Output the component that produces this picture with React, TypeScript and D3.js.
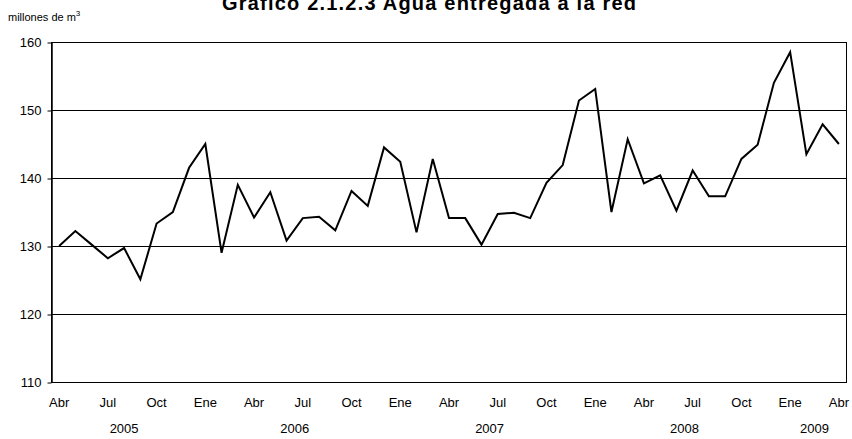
import { useEffect, useRef } from 'react';
import { select, scaleBand, scaleLinear, line, axisLeft, range } from 'd3';

// Agua entregada a la red, millones de m3, Abr 2005 - Abr 2009
const values = [
  130.0, 132.2, 130.2, 128.2, 129.7, 125.1, 133.3, 135.0, 141.5,
  145.0, 129.0, 139.0, 134.2, 137.9, 130.8, 134.1, 134.3, 132.3, 138.1, 135.9, 144.5,
  142.4, 132.0, 142.8, 134.1, 134.1, 130.2, 134.7, 134.9, 134.1, 139.3, 141.9, 151.4,
  153.1, 135.0, 145.7, 139.2, 140.4, 135.2, 141.1, 137.3, 137.3, 142.8, 144.9, 154.0,
  158.5, 143.5, 147.9, 145.0,
];

// one label every 3 months, starting at Abr 2005
const monthTicks = ['Abr', 'Jul', 'Oct', 'Ene', 'Abr', 'Jul', 'Oct', 'Ene', 'Abr',
  'Jul', 'Oct', 'Ene', 'Abr', 'Jul', 'Oct', 'Ene', 'Abr'];

const years = ['2005', '2006', '2007', '2008', '2009'];
const monthsPerYear = [9, 12, 12, 12, 4];

const yTicks = [110, 120, 130, 140, 150, 160];

function App() {
  const svgRef = useRef(null);
  const width = 852;
  const height = 439;
  const margin = { top: 42, bottom: 57, left: 51, right: 5 };

  useEffect(() => {
    const svg = select(svgRef.current);
    svg.selectAll('*').remove();

    const font = 'Liberation Sans, Arial, sans-serif';

    const xScale = scaleBand()
      .domain(range(values.length))
      .range([margin.left, width - margin.right])
      .padding(0);
    const xc = (i) => xScale(i) + xScale.bandwidth() / 2;

    const yScale = scaleLinear()
      .domain([110, 160])
      .range([height - margin.bottom, margin.top]);

    // title (cut off at the top as in the original)
    svg.append('text')
      .attr('x', 222)
      .attr('y', 10)
      .attr('font-family', font)
      .attr('font-weight', 'bold')
      .attr('font-size', 20)
      .attr('textLength', 414)
      .attr('lengthAdjust', 'spacing')
      .text('Gráfico 2.1.2.3 Agua entregada a la red');

    // unit label
    const unit = svg.append('text')
      .attr('x', 8)
      .attr('y', 21)
      .attr('font-family', font)
      .attr('font-size', 11);
    unit.append('tspan').text('millones de m');
    unit.append('tspan').attr('dy', -5).attr('font-size', 8).text('3');

    // gridlines
    svg.append('g')
      .selectAll('line')
      .data(yTicks)
      .enter()
      .append('line')
      .attr('x1', margin.left)
      .attr('x2', width - margin.right)
      .attr('y1', (d) => Math.round(yScale(d)) + 0.5)
      .attr('y2', (d) => Math.round(yScale(d)) + 0.5)
      .attr('stroke', '#000')
      .attr('stroke-width', 1);

    // plot frame
    svg.append('rect')
      .attr('x', margin.left + 0.5)
      .attr('y', Math.round(yScale(160)) + 0.5)
      .attr('width', width - margin.right - margin.left - 1)
      .attr('height', Math.round(yScale(110)) - Math.round(yScale(160)))
      .attr('fill', 'none')
      .attr('stroke', '#000');

    // y axis
    const yAxis = svg.append('g')
      .attr('transform', `translate(${margin.left + 0.5}, 0.5)`)
      .call(axisLeft(yScale).tickValues(yTicks).tickSize(4).tickSizeOuter(0).tickPadding(6));
    yAxis.select('.domain').attr('stroke', '#000').attr('stroke-width', 1.5);
    yAxis.selectAll('text')
      .attr('font-family', font)
      .attr('font-size', 13)
      .attr('fill', '#000');

    // month labels
    svg.append('g')
      .selectAll('text')
      .data(monthTicks)
      .enter()
      .append('text')
      .attr('x', (_, i) => xc(i * 3))
      .attr('y', 406.5)
      .attr('text-anchor', 'middle')
      .attr('font-family', font)
      .attr('font-size', 13)
      .text((d) => d);

    // year labels centered on their months
    let start = 0;
    const yearPos = years.map((y, k) => {
      const s = start;
      start += monthsPerYear[k];
      return { y, mid: (xc(s) + xc(start - 1)) / 2 };
    });
    svg.append('g')
      .selectAll('text')
      .data(yearPos)
      .enter()
      .append('text')
      .attr('x', (d) => d.mid)
      .attr('y', 433)
      .attr('text-anchor', 'middle')
      .attr('font-family', font)
      .attr('font-size', 13)
      .text((d) => d.y);

    // series line
    const path = line()
      .x((_, i) => xc(i))
      .y((d) => yScale(d));
    svg.append('path')
      .datum(values)
      .attr('d', path)
      .attr('fill', 'none')
      .attr('stroke', '#000')
      .attr('stroke-width', 2)
      .attr('stroke-linejoin', 'miter');
  }, []);

  return (
    <svg
      ref={svgRef}
      width={width}
      height={height}
      style={{ position: 'absolute', left: 0, top: 0, background: '#fff' }}
    />
  );
}

export default App;
